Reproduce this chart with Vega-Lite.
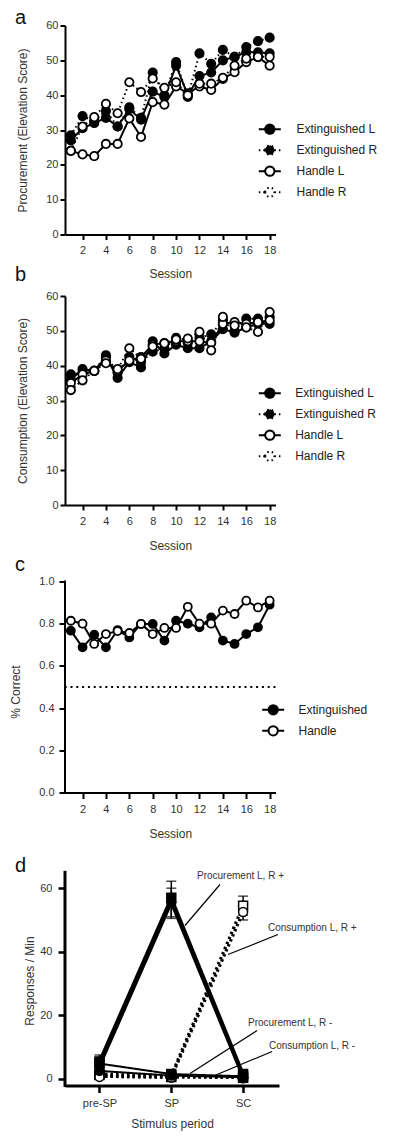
{
  "$schema": "https://vega.github.io/schema/vega-lite/v6.json",
  "padding": {"left": 9, "top": 7.5, "right": 0, "bottom": 0},
  "bounds": "flush",
  "spacing": 61.5,
  "resolve": {
    "scale": {"fill": "independent", "strokeDash": "independent", "shape": "independent", "strokeWidth": "independent"},
    "legend": {"fill": "independent", "strokeDash": "independent", "shape": "independent", "strokeWidth": "independent"}
  },
  "config": {
    "view": {"stroke": null},
    "font": "Liberation Sans",
    "axis": {"grid": false, "domainColor": "black", "tickColor": "black", "domainWidth": 2, "tickWidth": 2, "tickSize": 5, "labelFont": "Liberation Sans", "labelFontSize": 11, "labelColor": "#333", "titleFont": "Liberation Sans", "titleFontSize": 12, "titleFontWeight": "normal", "titleColor": "#333", "labelFlush": false, "labelOverlap": false},
    "legend": {"labelFont": "Liberation Sans", "labelFontSize": 12, "labelColor": "#222", "labelLimit": 0},
    "title": {"font": "Liberation Sans", "fontSize": 20, "fontWeight": "normal", "anchor": "start", "frame": "group", "color": "#111"}
  },
  "datasets": {
    "procurement": [
      {"session":1,"series":"Extinguished L","score":27},{"session":2,"series":"Extinguished L","score":30.5},{"session":3,"series":"Extinguished L","score":32},{"session":4,"series":"Extinguished L","score":33.5},{"session":5,"series":"Extinguished L","score":31},{"session":6,"series":"Extinguished L","score":36},{"session":7,"series":"Extinguished L","score":33},{"session":8,"series":"Extinguished L","score":41},{"session":9,"series":"Extinguished L","score":39.5},{"session":10,"series":"Extinguished L","score":48.5},{"session":11,"series":"Extinguished L","score":40},{"session":12,"series":"Extinguished L","score":45.5},{"session":13,"series":"Extinguished L","score":46.5},{"session":14,"series":"Extinguished L","score":50},{"session":15,"series":"Extinguished L","score":51},{"session":16,"series":"Extinguished L","score":52.3},{"session":17,"series":"Extinguished L","score":52.3},{"session":18,"series":"Extinguished L","score":52},
      {"session":1,"series":"Extinguished R","score":28.5},{"session":2,"series":"Extinguished R","score":34},{"session":3,"series":"Extinguished R","score":32.5},{"session":4,"series":"Extinguished R","score":35.5},{"session":5,"series":"Extinguished R","score":31},{"session":6,"series":"Extinguished R","score":36.5},{"session":7,"series":"Extinguished R","score":33.5},{"session":8,"series":"Extinguished R","score":46.5},{"session":9,"series":"Extinguished R","score":40},{"session":10,"series":"Extinguished R","score":49.5},{"session":11,"series":"Extinguished R","score":39.5},{"session":12,"series":"Extinguished R","score":52},{"session":13,"series":"Extinguished R","score":49},{"session":14,"series":"Extinguished R","score":53},{"session":15,"series":"Extinguished R","score":51},{"session":16,"series":"Extinguished R","score":53.8},{"session":17,"series":"Extinguished R","score":55.5},{"session":18,"series":"Extinguished R","score":56.5},
      {"session":1,"series":"Handle L","score":24},{"session":2,"series":"Handle L","score":23},{"session":3,"series":"Handle L","score":22.5},{"session":4,"series":"Handle L","score":26},{"session":5,"series":"Handle L","score":26},{"session":6,"series":"Handle L","score":33.3},{"session":7,"series":"Handle L","score":28},{"session":8,"series":"Handle L","score":38},{"session":9,"series":"Handle L","score":37.3},{"session":10,"series":"Handle L","score":42.5},{"session":11,"series":"Handle L","score":40.5},{"session":12,"series":"Handle L","score":42.5},{"session":13,"series":"Handle L","score":41.5},{"session":14,"series":"Handle L","score":44.7},{"session":15,"series":"Handle L","score":46.6},{"session":16,"series":"Handle L","score":49.5},{"session":17,"series":"Handle L","score":50.9},{"session":18,"series":"Handle L","score":48.5},
      {"session":1,"series":"Handle R","score":24},{"session":2,"series":"Handle R","score":31},{"session":3,"series":"Handle R","score":33.7},{"session":4,"series":"Handle R","score":37.5},{"session":5,"series":"Handle R","score":34.8},{"session":6,"series":"Handle R","score":43.7},{"session":7,"series":"Handle R","score":40.9},{"session":8,"series":"Handle R","score":44.8},{"session":9,"series":"Handle R","score":42.1},{"session":10,"series":"Handle R","score":43.7},{"session":11,"series":"Handle R","score":40},{"session":12,"series":"Handle R","score":43.3},{"session":13,"series":"Handle R","score":43.3},{"session":14,"series":"Handle R","score":45},{"session":15,"series":"Handle R","score":48.5},{"session":16,"series":"Handle R","score":50.5},{"session":17,"series":"Handle R","score":51},{"session":18,"series":"Handle R","score":51}
    ],
    "consumption": [
      {"session":1,"series":"Extinguished L","score":36},{"session":2,"series":"Extinguished L","score":39},{"session":3,"series":"Extinguished L","score":38.5},{"session":4,"series":"Extinguished L","score":42.5},{"session":5,"series":"Extinguished L","score":36.5},{"session":6,"series":"Extinguished L","score":41},{"session":7,"series":"Extinguished L","score":39.5},{"session":8,"series":"Extinguished L","score":47},{"session":9,"series":"Extinguished L","score":43.5},{"session":10,"series":"Extinguished L","score":46},{"session":11,"series":"Extinguished L","score":45},{"session":12,"series":"Extinguished L","score":45},{"session":13,"series":"Extinguished L","score":47},{"session":14,"series":"Extinguished L","score":50.5},{"session":15,"series":"Extinguished L","score":49.5},{"session":16,"series":"Extinguished L","score":51},{"session":17,"series":"Extinguished L","score":52},{"session":18,"series":"Extinguished L","score":52},
      {"session":1,"series":"Extinguished R","score":37.5},{"session":2,"series":"Extinguished R","score":38},{"session":3,"series":"Extinguished R","score":38.5},{"session":4,"series":"Extinguished R","score":43},{"session":5,"series":"Extinguished R","score":38},{"session":6,"series":"Extinguished R","score":42.5},{"session":7,"series":"Extinguished R","score":41},{"session":8,"series":"Extinguished R","score":44},{"session":9,"series":"Extinguished R","score":45},{"session":10,"series":"Extinguished R","score":48},{"session":11,"series":"Extinguished R","score":46.5},{"session":12,"series":"Extinguished R","score":48},{"session":13,"series":"Extinguished R","score":49},{"session":14,"series":"Extinguished R","score":53},{"session":15,"series":"Extinguished R","score":50},{"session":16,"series":"Extinguished R","score":53.5},{"session":17,"series":"Extinguished R","score":53.5},{"session":18,"series":"Extinguished R","score":54},
      {"session":1,"series":"Handle L","score":35},{"session":2,"series":"Handle L","score":37.5},{"session":3,"series":"Handle L","score":38.5},{"session":4,"series":"Handle L","score":41.5},{"session":5,"series":"Handle L","score":38.5},{"session":6,"series":"Handle L","score":41.5},{"session":7,"series":"Handle L","score":42.5},{"session":8,"series":"Handle L","score":46},{"session":9,"series":"Handle L","score":46.5},{"session":10,"series":"Handle L","score":47},{"session":11,"series":"Handle L","score":47},{"session":12,"series":"Handle L","score":47},{"session":13,"series":"Handle L","score":46.5},{"session":14,"series":"Handle L","score":52},{"session":15,"series":"Handle L","score":52.5},{"session":16,"series":"Handle L","score":52},{"session":17,"series":"Handle L","score":52.5},{"session":18,"series":"Handle L","score":53},
      {"session":1,"series":"Handle R","score":33},{"session":2,"series":"Handle R","score":35.8},{"session":3,"series":"Handle R","score":38.5},{"session":4,"series":"Handle R","score":40.7},{"session":5,"series":"Handle R","score":39},{"session":6,"series":"Handle R","score":45},{"session":7,"series":"Handle R","score":42},{"session":8,"series":"Handle R","score":45.5},{"session":9,"series":"Handle R","score":46.4},{"session":10,"series":"Handle R","score":47.5},{"session":11,"series":"Handle R","score":47.8},{"session":12,"series":"Handle R","score":49.7},{"session":13,"series":"Handle R","score":44.4},{"session":14,"series":"Handle R","score":54},{"session":15,"series":"Handle R","score":51.5},{"session":16,"series":"Handle R","score":51},{"session":17,"series":"Handle R","score":49.7},{"session":18,"series":"Handle R","score":55.4}
    ],
    "accuracy": [
      {"session":1,"group":"Extinguished","correct":0.767},{"session":2,"group":"Extinguished","correct":0.688},{"session":3,"group":"Extinguished","correct":0.748},{"session":4,"group":"Extinguished","correct":0.688},{"session":5,"group":"Extinguished","correct":0.77},{"session":6,"group":"Extinguished","correct":0.735},{"session":7,"group":"Extinguished","correct":0.799},{"session":8,"group":"Extinguished","correct":0.799},{"session":9,"group":"Extinguished","correct":0.72},{"session":10,"group":"Extinguished","correct":0.814},{"session":11,"group":"Extinguished","correct":0.8},{"session":12,"group":"Extinguished","correct":0.783},{"session":13,"group":"Extinguished","correct":0.83},{"session":14,"group":"Extinguished","correct":0.72},{"session":15,"group":"Extinguished","correct":0.704},{"session":16,"group":"Extinguished","correct":0.751},{"session":17,"group":"Extinguished","correct":0.783},{"session":18,"group":"Extinguished","correct":0.89},
      {"session":1,"group":"Handle","correct":0.814},{"session":2,"group":"Handle","correct":0.8},{"session":3,"group":"Handle","correct":0.704},{"session":4,"group":"Handle","correct":0.751},{"session":5,"group":"Handle","correct":0.765},{"session":6,"group":"Handle","correct":0.756},{"session":7,"group":"Handle","correct":0.799},{"session":8,"group":"Handle","correct":0.751},{"session":9,"group":"Handle","correct":0.78},{"session":10,"group":"Handle","correct":0.78},{"session":11,"group":"Handle","correct":0.88},{"session":12,"group":"Handle","correct":0.8},{"session":13,"group":"Handle","correct":0.8},{"session":14,"group":"Handle","correct":0.862},{"session":15,"group":"Handle","correct":0.846},{"session":16,"group":"Handle","correct":0.909},{"session":17,"group":"Handle","correct":0.877},{"session":18,"group":"Handle","correct":0.909}
    ],
    "responses": [
      {"stage":0,"period":"pre-SP","series":"Consumption L +","kind":"Consumption","side":"L","valence":"+","rate":1.5},
      {"stage":1,"period":"SP","series":"Consumption L +","kind":"Consumption","side":"L","valence":"+","rate":1},
      {"stage":2,"period":"SC","series":"Consumption L +","kind":"Consumption","side":"L","valence":"+","rate":54.5},
      {"stage":0,"period":"pre-SP","series":"Consumption R +","kind":"Consumption","side":"R","valence":"+","rate":0.8},
      {"stage":1,"period":"SP","series":"Consumption R +","kind":"Consumption","side":"R","valence":"+","rate":0.5},
      {"stage":2,"period":"SC","series":"Consumption R +","kind":"Consumption","side":"R","valence":"+","rate":52.5},
      {"stage":0,"period":"pre-SP","series":"Consumption L -","kind":"Consumption","side":"L","valence":"-","rate":1.2},
      {"stage":1,"period":"SP","series":"Consumption L -","kind":"Consumption","side":"L","valence":"-","rate":0.6},
      {"stage":2,"period":"SC","series":"Consumption L -","kind":"Consumption","side":"L","valence":"-","rate":0.3},
      {"stage":0,"period":"pre-SP","series":"Consumption R -","kind":"Consumption","side":"R","valence":"-","rate":0.6},
      {"stage":1,"period":"SP","series":"Consumption R -","kind":"Consumption","side":"R","valence":"-","rate":0.4},
      {"stage":2,"period":"SC","series":"Consumption R -","kind":"Consumption","side":"R","valence":"-","rate":0.2},
      {"stage":0,"period":"pre-SP","series":"Procurement L -","kind":"Procurement","side":"L","valence":"-","rate":4.8},
      {"stage":1,"period":"SP","series":"Procurement L -","kind":"Procurement","side":"L","valence":"-","rate":1.5},
      {"stage":2,"period":"SC","series":"Procurement L -","kind":"Procurement","side":"L","valence":"-","rate":0.8},
      {"stage":0,"period":"pre-SP","series":"Procurement R -","kind":"Procurement","side":"R","valence":"-","rate":2.5},
      {"stage":1,"period":"SP","series":"Procurement R -","kind":"Procurement","side":"R","valence":"-","rate":1},
      {"stage":2,"period":"SC","series":"Procurement R -","kind":"Procurement","side":"R","valence":"-","rate":0.5},
      {"stage":0,"period":"pre-SP","series":"Procurement L +","kind":"Procurement","side":"L","valence":"+","rate":5.5},
      {"stage":1,"period":"SP","series":"Procurement L +","kind":"Procurement","side":"L","valence":"+","rate":57},
      {"stage":2,"period":"SC","series":"Procurement L +","kind":"Procurement","side":"L","valence":"+","rate":1.5},
      {"stage":0,"period":"pre-SP","series":"Procurement R +","kind":"Procurement","side":"R","valence":"+","rate":4},
      {"stage":1,"period":"SP","series":"Procurement R +","kind":"Procurement","side":"R","valence":"+","rate":55.5},
      {"stage":2,"period":"SC","series":"Procurement R +","kind":"Procurement","side":"R","valence":"+","rate":0.5}
    ],
    "errors": [
      {"stage":0,"series":"Procurement L +","lo":3.5,"hi":7.5},
      {"stage":0,"series":"Procurement R +","lo":2,"hi":6},
      {"stage":1,"series":"Procurement L +","lo":51,"hi":62.2},
      {"stage":1,"series":"Procurement R +","lo":50.5,"hi":60},
      {"stage":2,"series":"Consumption L +","lo":51.5,"hi":57.5},
      {"stage":2,"series":"Consumption R +","lo":50,"hi":55}
    ],
    "notes": [
      {"note":"Procurement L, R +","x":1.358,"y":63.69},
      {"note":"Consumption L, R +","x":2.347,"y":47.54},
      {"note":"Procurement L, R -","x":2.068,"y":17.64},
      {"note":"Consumption L, R -","x":2.361,"y":10.27}
    ],
    "leaders": [
      {"x":1.678,"y":61.17,"x2":1.191,"y2":48.26},
      {"x":2.486,"y":45.43,"x2":1.79,"y2":39.14},
      {"x":2.194,"y":15.21,"x2":1.261,"y2":1.67},
      {"x":2.403,"y":8.6,"x2":1.539,"y2":0.42}
    ]
  },
  "vconcat": [
    {
      "width": 210.5, "height": 209,
      "title": {"text": "a", "dx": -50, "offset": -8},
      "data": {"name": "procurement"},
      "encoding": {
        "x": {"field": "session", "type": "quantitative", "scale": {"domain": [0.5, 18.5], "nice": false, "zero": false},
              "axis": {"values": [2,4,6,8,10,12,14,16,18], "title": "Session", "labelPadding": 5, "labelOverlap": false, "titleY": 39, "titleBaseline": "middle"}},
        "y": {"field": "score", "type": "quantitative", "scale": {"domain": [0, 60], "nice": false},
              "axis": {"values": [0,10,20,30,40,50,60], "title": "Procurement (Elevation Score)", "labelPadding": 2, "labelOverlap": false, "titleX": -42.5, "titleBaseline": "middle"}}
      },
      "layer": [
        {"mark": {"type": "line", "color": "black", "strokeWidth": 2},
         "encoding": {"strokeDash": {"field": "series", "type": "nominal",
            "scale": {"domain": ["Extinguished L","Extinguished R","Handle L","Handle R"], "range": [[1,0],[1.5,3],[1,0],[1.5,3]]},
            "legend": {"title": null, "orient": "none", "legendX": 192.8, "legendY": 91.7, "symbolType": "M-1,0L-0.42,0M0.42,0L1,0M-0.42,0A0.42,0.42,0,1,1,0.42,0A0.42,0.42,0,1,1,-0.42,0Z", "symbolSize": 484, "symbolStrokeWidth": 2, "symbolStrokeColor": "black", "labelOffset": 14.7, "rowPadding": 0, "padding": 0}}}},
        {"mark": {"type": "point", "shape": "circle", "filled": true, "stroke": "black", "strokeWidth": 1.8, "size": 70, "opacity": 1},
         "encoding": {"fill": {"field": "series", "type": "nominal",
            "scale": {"domain": ["Extinguished L","Extinguished R","Handle L","Handle R"], "range": ["black","black","white","white"]},
            "legend": {"title": null, "orient": "none", "legendX": 192.8, "legendY": 91.7, "symbolType": "M-1,0L-0.42,0M0.42,0L1,0M-0.42,0A0.42,0.42,0,1,1,0.42,0A0.42,0.42,0,1,1,-0.42,0Z", "symbolSize": 484, "symbolStrokeWidth": 2, "symbolStrokeColor": "black", "labelOffset": 14.7, "rowPadding": 0, "padding": 0}}}}
      ]
    },
    {
      "width": 210.5, "height": 209,
      "title": {"text": "b", "dx": -50, "offset": 4.8},
      "data": {"name": "consumption"},
      "encoding": {
        "x": {"field": "session", "type": "quantitative", "scale": {"domain": [0.5, 18.5], "nice": false, "zero": false},
              "axis": {"values": [2,4,6,8,10,12,14,16,18], "title": "Session", "labelPadding": 5, "labelOverlap": false, "titleY": 40.5, "titleBaseline": "middle"}},
        "y": {"field": "score", "type": "quantitative", "scale": {"domain": [0, 60], "nice": false},
              "axis": {"values": [0,10,20,30,40,50,60], "title": "Consumption (Elevation Score)", "labelPadding": 2, "labelOverlap": false, "titleX": -42.5, "titleBaseline": "middle"}}
      },
      "layer": [
        {"mark": {"type": "line", "color": "black", "strokeWidth": 2},
         "encoding": {"strokeDash": {"field": "series", "type": "nominal",
            "scale": {"domain": ["Extinguished L","Extinguished R","Handle L","Handle R"], "range": [[1,0],[1.5,3],[1,0],[1.5,3]]},
            "legend": {"title": null, "orient": "none", "legendX": 192.8, "legendY": 85.2, "symbolType": "M-1,0L-0.42,0M0.42,0L1,0M-0.42,0A0.42,0.42,0,1,1,0.42,0A0.42,0.42,0,1,1,-0.42,0Z", "symbolSize": 484, "symbolStrokeWidth": 2, "symbolStrokeColor": "black", "labelOffset": 13.4, "rowPadding": 0, "padding": 0}}}},
        {"mark": {"type": "point", "shape": "circle", "filled": true, "stroke": "black", "strokeWidth": 1.8, "size": 70, "opacity": 1},
         "encoding": {"fill": {"field": "series", "type": "nominal",
            "scale": {"domain": ["Extinguished L","Extinguished R","Handle L","Handle R"], "range": ["black","black","white","white"]},
            "legend": {"title": null, "orient": "none", "legendX": 192.8, "legendY": 85.2, "symbolType": "M-1,0L-0.42,0M0.42,0L1,0M-0.42,0A0.42,0.42,0,1,1,0.42,0A0.42,0.42,0,1,1,-0.42,0Z", "symbolSize": 484, "symbolStrokeWidth": 2, "symbolStrokeColor": "black", "labelOffset": 13.4, "rowPadding": 0, "padding": 0}}}}
      ]
    },
    {
      "width": 210.5, "height": 226,
      "title": {"text": "c", "dx": -50, "offset": -8.2},
      "layer": [
        {"data": {"values": [{"edge": "axis"}]},
         "mark": {"type": "rule", "color": "black", "strokeWidth": 2, "strokeCap": "square"},
         "encoding": {"x": {"datum": 0.5, "type": "quantitative", "title": "Session", "scale": {"domain": [0.5, 18.5], "nice": false, "zero": false},
                            "axis": {"values": [2,4,6,8,10,12,14,16,18], "title": "Session", "tickSize": 6, "labelPadding": 5, "labelOverlap": false, "titleY": 41, "titleBaseline": "middle"}},
                      "y": {"datum": 0, "type": "quantitative", "title": "% Correct", "scale": {"domain": [0, 1.0711], "nice": false, "zero": false},
                            "axis": {"values": [0,0.2,0.4,0.6,0.8,1], "format": ".1f", "title": "% Correct", "domain": false, "tickSize": 6, "labelPadding": 5, "labelOverlap": false, "titleX": -49.5, "titleY": 125, "titleBaseline": "middle"}},
                      "y2": {"datum": 1}}},
        {"data": {"values": [{"chance": 0.5}]},
         "mark": {"type": "rule", "color": "black", "strokeWidth": 2, "strokeDash": [2, 3.8]},
         "encoding": {"y": {"field": "chance", "type": "quantitative", "title": "% Correct", "scale": {"domain": [0, 1.0711], "nice": false, "zero": false},
                            "axis": {"values": [0,0.2,0.4,0.6,0.8,1], "format": ".1f", "title": "% Correct", "domain": false, "tickSize": 6, "labelPadding": 5, "labelOverlap": false, "titleX": -49.5, "titleY": 125, "titleBaseline": "middle"}}}},
        {"data": {"name": "accuracy"},
         "mark": {"type": "line", "color": "black", "strokeWidth": 2},
         "encoding": {
           "x": {"field": "session", "type": "quantitative", "title": "Session", "scale": {"domain": [0.5, 18.5], "nice": false, "zero": false},
                 "axis": {"values": [2,4,6,8,10,12,14,16,18], "title": "Session", "tickSize": 6, "labelPadding": 5, "labelOverlap": false, "titleY": 41, "titleBaseline": "middle"}},
           "y": {"field": "correct", "type": "quantitative", "title": "% Correct", "scale": {"domain": [0, 1.0711], "nice": false, "zero": false},
                 "axis": {"values": [0,0.2,0.4,0.6,0.8,1], "format": ".1f", "title": "% Correct", "domain": false, "tickSize": 6, "labelPadding": 5, "labelOverlap": false, "titleX": -49.5, "titleY": 125, "titleBaseline": "middle"}},
           "detail": {"field": "group"}}},
        {"data": {"name": "accuracy"},
         "mark": {"type": "point", "shape": "circle", "filled": true, "stroke": "black", "strokeWidth": 1.8, "size": 64, "opacity": 1},
         "encoding": {
           "x": {"field": "session", "type": "quantitative", "title": "Session", "scale": {"domain": [0.5, 18.5], "nice": false, "zero": false},
                 "axis": {"values": [2,4,6,8,10,12,14,16,18], "title": "Session", "tickSize": 6, "labelPadding": 5, "labelOverlap": false, "titleY": 41, "titleBaseline": "middle"}},
           "y": {"field": "correct", "type": "quantitative", "title": "% Correct", "scale": {"domain": [0, 1.0711], "nice": false, "zero": false},
                 "axis": {"values": [0,0.2,0.4,0.6,0.8,1], "format": ".1f", "title": "% Correct", "domain": false, "tickSize": 6, "labelPadding": 5, "labelOverlap": false, "titleX": -49.5, "titleY": 125, "titleBaseline": "middle"}},
           "fill": {"field": "group", "type": "nominal", "scale": {"domain": ["Extinguished","Handle"], "range": ["black","white"]},
              "legend": {"title": null, "orient": "none", "legendX": 196.2, "legendY": 131.3, "symbolType": "M-1,0L-0.42,0M0.42,0L1,0M-0.42,0A0.42,0.42,0,1,1,0.42,0A0.42,0.42,0,1,1,-0.42,0Z", "symbolSize": 484, "symbolStrokeWidth": 2, "symbolStrokeColor": "black", "labelOffset": 13.3, "rowPadding": -1, "padding": 0}}}}
      ]
    },
    {
      "width": 214, "height": 231.5,
      "title": {"text": "d", "dx": -50, "offset": -22.4},
      "layer": [
        {"data": {"values": [{"edge": "axis"}]},
         "mark": {"type": "rule", "color": "black", "strokeWidth": 3, "strokeCap": "square"},
         "encoding": {"x": {"datum": -0.48, "type": "quantitative", "title": "Stimulus period", "scale": {"domain": [-0.48, 2.5], "nice": false, "zero": false}},
                      "y": {"datum": -2.1, "type": "quantitative", "title": "Responses / Min", "scale": {"domain": [-2.1, 70.77], "nice": false, "zero": false}},
                      "y2": {"datum": 65}}},
        {"data": {"name": "responses"},
         "mark": {"type": "line", "color": "black"},
         "encoding": {
           "x": {"field": "stage", "type": "quantitative", "title": "Stimulus period", "scale": {"domain": [-0.48, 2.5], "nice": false, "zero": false},
                 "axis": {"values": [0,1,2], "labelExpr": "datum.value == 0 ? 'pre-SP' : datum.value == 1 ? 'SP' : 'SC'", "title": "Stimulus period", "tickSize": 7, "domainWidth": 3, "tickWidth": 2.5, "labelPadding": 5, "labelOverlap": false, "titleY": 38.3, "titleBaseline": "middle"}},
           "y": {"field": "rate", "type": "quantitative", "title": "Responses / Min", "scale": {"domain": [-2.1, 70.77], "nice": false, "zero": false},
                 "axis": {"values": [0,10,20,30,40,50,60], "title": "Responses / Min", "domain": false, "tickSize": 7, "tickWidth": 2.5, "labelPadding": 6, "labelOverlap": false, "titleX": -36, "titleY": 126.5, "titleBaseline": "middle"}},
           "detail": {"field": "series"},
           "strokeDash": {"field": "kind", "type": "nominal", "scale": {"domain": ["Procurement","Consumption"], "range": [[1,0],[2.5,3]]}, "legend": null},
           "strokeWidth": {"field": "valence", "type": "ordinal", "scale": {"domain": ["+","-"], "range": [3.2, 2]}, "legend": null}}},
        {"data": {"name": "errors"},
         "mark": {"type": "errorbar", "ticks": {"size": 10, "thickness": 1.5, "color": "black"}, "rule": {"strokeWidth": 1.5, "color": "black"}},
         "encoding": {
           "x": {"field": "stage", "type": "quantitative", "title": "Stimulus period", "scale": {"domain": [-0.48, 2.5], "nice": false, "zero": false}},
           "y": {"field": "lo", "type": "quantitative", "title": "Responses / Min", "scale": {"domain": [-2.1, 70.77], "nice": false, "zero": false}},
           "y2": {"field": "hi"}}},
        {"data": {"name": "responses"},
         "mark": {"type": "point", "filled": true, "stroke": "black", "strokeWidth": 1.5, "size": 80, "opacity": 1},
         "encoding": {
           "x": {"field": "stage", "type": "quantitative", "title": "Stimulus period", "scale": {"domain": [-0.48, 2.5], "nice": false, "zero": false}},
           "y": {"field": "rate", "type": "quantitative", "title": "Responses / Min", "scale": {"domain": [-2.1, 70.77], "nice": false, "zero": false}},
           "shape": {"field": "side", "type": "nominal", "scale": {"domain": ["L","R"], "range": ["square","circle"]}, "legend": null},
           "fill": {"field": "kind", "type": "nominal", "scale": {"domain": ["Procurement","Consumption"], "range": ["black","white"]}, "legend": null}}},
        {"data": {"name": "leaders"},
         "mark": {"type": "rule", "color": "black", "strokeWidth": 1.2},
         "encoding": {
           "x": {"field": "x", "type": "quantitative", "title": "Stimulus period", "scale": {"domain": [-0.48, 2.5], "nice": false, "zero": false}},
           "x2": {"field": "x2"},
           "y": {"field": "y", "type": "quantitative", "title": "Responses / Min", "scale": {"domain": [-2.1, 70.77], "nice": false, "zero": false}},
           "y2": {"field": "y2"}}},
        {"data": {"name": "notes"},
         "mark": {"type": "text", "align": "left", "baseline": "middle", "font": "Liberation Sans", "fontSize": 10, "color": "#333"},
         "encoding": {
           "x": {"field": "x", "type": "quantitative", "title": "Stimulus period", "scale": {"domain": [-0.48, 2.5], "nice": false, "zero": false}},
           "y": {"field": "y", "type": "quantitative", "title": "Responses / Min", "scale": {"domain": [-2.1, 70.77], "nice": false, "zero": false}},
           "text": {"field": "note"}}}
      ]
    }
  ]
}
